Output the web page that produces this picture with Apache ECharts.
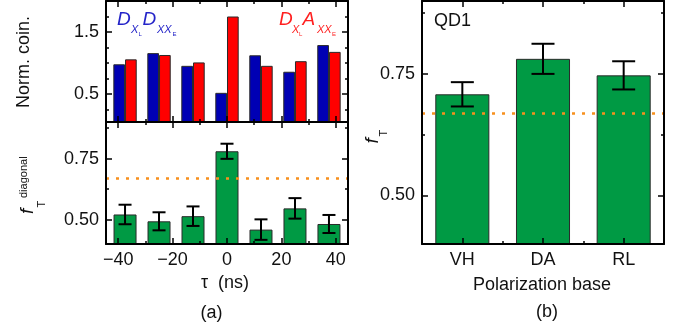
<!DOCTYPE html>
<html><head><meta charset="utf-8">
<script src="https://cdn.jsdelivr.net/npm/echarts@6/dist/echarts.min.js"></script>
<style>html,body{margin:0;padding:0;background:#fff}#c{width:685px;height:332px}</style>
</head><body><div id="c"></div>
<script>
// ---- data ----
const tau = [-37.5, -25, -12.5, 0, 12.5, 25, 37.5];
const coinDD = [0.98, 1.16, 0.955, 0.52, 1.125, 0.86, 1.29];
const coinDA = [1.06, 1.13, 1.01, 1.75, 0.955, 1.03, 1.18];
const fDiag = [0.521, 0.493, 0.514, 0.780, 0.459, 0.546, 0.482];
const fDiagErr = [0.040, 0.037, 0.040, 0.031, 0.042, 0.042, 0.037];
const bases = ['VH', 'DA', 'RL'];
const fBase = [0.708, 0.781, 0.747];
const fBaseErr = [0.025, 0.031, 0.029];
const threshold = 2 / 3;
// ---- tick labels / positions ----
const tauMajor = [-40, -20, 0, 20, 40];
const tauMinor = [-30, -10, 10, 30];
const coinMajor = [0.5, 1.5];
const coinMinor = [0.25, 0.75, 1.0, 1.25, 1.75];
const fMajor = [0.5, 0.75];
const fMinor = [0.625, 0.875];

const FONT = '"Liberation Sans", Arial, sans-serif';
const TXT = '#111';
const GREEN = '#009a44';
const tickStyle = { color: '#000', width: 1.5 };

function valAxis(grid, pos, min, max, ticks, len, opts) {
  opts = opts || {};
  return {
    type: 'value', gridIndex: grid, position: pos, min: min, max: max, z: 10,
    splitLine: { show: false },
    axisLine: { show: !!opts.line, onZero: false, lineStyle: { color: '#000', width: 2 } },
    axisTick: { show: true, inside: true, length: len, customValues: ticks, lineStyle: tickStyle },
    axisLabel: opts.fmt ? { show: true, customValues: ticks, formatter: opts.fmt, fontSize: 18,
      fontFamily: FONT, color: TXT, margin: 7 } : { show: false }
  };
}
function catAxis(grid, pos, len, center, opts) {
  opts = opts || {};
  return {
    type: 'category', gridIndex: grid, position: pos, data: bases, boundaryGap: true, z: 10,
    axisLine: { show: !!opts.line, lineStyle: { color: '#000', width: 2 } },
    axisTick: { show: true, inside: true, length: len, alignWithLabel: center, lineStyle: tickStyle },
    axisLabel: opts.label ? { show: true, fontSize: 18, fontFamily: FONT, color: TXT, margin: 7 } : { show: false }
  };
}
const minus = v => String(v).replace('-', '\u2212');

const xAxes = [
  valAxis(0, 'bottom', -44.5, 44.5, tauMajor, 6, { line: true }),
  valAxis(0, 'bottom', -44.5, 44.5, tauMinor, 3),
  valAxis(0, 'top', -44.5, 44.5, tauMajor, 6, { line: true }),
  valAxis(0, 'top', -44.5, 44.5, tauMinor, 3),
  valAxis(1, 'bottom', -44.5, 44.5, tauMajor, 6, { line: true, fmt: minus }),
  valAxis(1, 'bottom', -44.5, 44.5, tauMinor, 3),
  valAxis(1, 'top', -44.5, 44.5, tauMajor, 6, { line: true }),
  valAxis(1, 'top', -44.5, 44.5, tauMinor, 3),
  catAxis(2, 'bottom', 6, true, { line: true, label: true }),
  catAxis(2, 'bottom', 3, false),
  catAxis(2, 'top', 6, true, { line: true }),
  catAxis(2, 'top', 3, false)
];
const yAxes = [
  valAxis(0, 'left', 0.05, 2.0, coinMajor, 6, { line: true, fmt: v => v.toFixed(1) }),
  valAxis(0, 'left', 0.05, 2.0, coinMinor, 3),
  valAxis(0, 'right', 0.05, 2.0, coinMajor, 6, { line: true }),
  valAxis(0, 'right', 0.05, 2.0, coinMinor, 3),
  valAxis(1, 'left', 0.4, 0.9, fMajor, 6, { line: true, fmt: v => v.toFixed(2) }),
  valAxis(1, 'left', 0.4, 0.9, fMinor, 3),
  valAxis(1, 'right', 0.4, 0.9, fMajor, 6, { line: true }),
  valAxis(1, 'right', 0.4, 0.9, fMinor, 3),
  valAxis(2, 'left', 0.4, 0.9, fMajor, 6, { line: true, fmt: v => v.toFixed(2) }),
  valAxis(2, 'left', 0.4, 0.9, fMinor, 3),
  valAxis(2, 'right', 0.4, 0.9, fMajor, 6, { line: true }),
  valAxis(2, 'right', 0.4, 0.9, fMinor, 3)
];

function errRender(hw) {
  return function (params, api) {
    const x = api.value(0), y = api.value(1), e = api.value(2);
    const top = api.coord([x, y + e]), bot = api.coord([x, y - e]);
    const st = { stroke: '#000', lineWidth: 2, fill: null };
    return { type: 'group', children: [
      { type: 'line', shape: { x1: top[0], y1: top[1], x2: bot[0], y2: bot[1] }, style: st },
      { type: 'line', shape: { x1: top[0] - hw, y1: top[1], x2: top[0] + hw, y2: top[1] }, style: st },
      { type: 'line', shape: { x1: bot[0] - hw, y1: bot[1], x2: bot[0] + hw, y2: bot[1] }, style: st }
    ] };
  };
}
const thrLine = {
  silent: true, symbol: ['none', 'none'], label: { show: false },
  lineStyle: { color: '#f7901e', width: 2.5, type: [3, 7] },
  data: [{ yAxis: threshold }]
};
const barBorder = { borderColor: '#2a2a2a', borderWidth: 1 };

function t(x, y, text, size, o) {
  o = o || {};
  return {
    type: 'text', x: x, y: y, rotation: o.rot || 0, z: 50,
    style: { text: text, fontSize: size, fontFamily: FONT, fontStyle: o.italic ? 'italic' : 'normal',
      fill: o.fill || TXT, align: o.align || 'center', verticalAlign: 'middle' }
  };
}
const R = Math.PI / 2;
const BLUE_T = '#2424c8', RED_T = '#ff1f1f';

const option = {
  animation: false,
  backgroundColor: '#fff',
  grid: [
    { left: 106, top: 1, width: 242, height: 121 },
    { left: 106, top: 122, width: 242, height: 122 },
    { left: 422, top: 1, width: 242, height: 243 }
  ],
  xAxis: xAxes,
  yAxis: yAxes,
  series: [
    { type: 'bar', xAxisIndex: 0, yAxisIndex: 0, barWidth: 11.7, barGap: '0%',
      itemStyle: Object.assign({ color: '#0000b4' }, barBorder),
      data: tau.map((x, i) => [x, coinDD[i]]) },
    { type: 'bar', xAxisIndex: 0, yAxisIndex: 0, barWidth: 11.7, barGap: '0%',
      itemStyle: Object.assign({ color: '#ff0000' }, barBorder),
      data: tau.map((x, i) => [x, coinDA[i]]) },
    { type: 'bar', xAxisIndex: 4, yAxisIndex: 4, barWidth: 23,
      itemStyle: Object.assign({ color: GREEN }, barBorder),
      data: tau.map((x, i) => [x, fDiag[i]]), markLine: thrLine },
    { type: 'custom', xAxisIndex: 4, yAxisIndex: 4, z: 5, renderItem: errRender(6.5),
      encode: { x: 0, y: 1 }, data: tau.map((x, i) => [x, fDiag[i], fDiagErr[i]]) },
    { type: 'bar', xAxisIndex: 8, yAxisIndex: 8, barWidth: '67%',
      itemStyle: Object.assign({ color: GREEN }, barBorder),
      data: fBase, markLine: thrLine },
    { type: 'custom', xAxisIndex: 8, yAxisIndex: 8, z: 5, renderItem: errRender(11.5),
      encode: { x: 0, y: 1 }, data: bases.map((b, i) => [b, fBase[i], fBaseErr[i]]) }
  ],
  graphic: [
    t(117, 20, 'D', 19, { italic: true, align: 'left', fill: BLUE_T }),
    t(131, 30, 'X', 11, { italic: true, align: 'left', fill: BLUE_T }),
    t(138.5, 34, 'L', 6, { align: 'left', fill: BLUE_T }),
    t(142.5, 20, 'D', 19, { italic: true, align: 'left', fill: BLUE_T }),
    t(157, 30, 'XX', 11, { italic: true, align: 'left', fill: BLUE_T }),
    t(172.5, 34, 'E', 6, { align: 'left', fill: BLUE_T }),
    t(279, 20, 'D', 19, { italic: true, align: 'left', fill: RED_T }),
    t(292, 30, 'X', 11, { italic: true, align: 'left', fill: RED_T }),
    t(299, 34, 'L', 6, { align: 'left', fill: RED_T }),
    t(302.5, 20, 'A', 19, { italic: true, align: 'left', fill: RED_T }),
    t(317, 30, 'XX', 11, { italic: true, align: 'left', fill: RED_T }),
    t(332, 34, 'E', 6, { align: 'left', fill: RED_T }),
    t(24, 62, 'Norm. coin.', 18, { rot: R }),
    t(28, 214, 'f', 19, { italic: true, rot: R, align: 'left' }),
    t(42, 207.5, 'T', 11, { rot: R, align: 'left' }),
    t(24, 198, 'diagonal', 11, { rot: R, align: 'left' }),
    t(373, 143.5, 'f', 19, { italic: true, rot: R, align: 'left' }),
    t(384, 136.5, 'T', 11, { rot: R, align: 'left' }),
    t(225, 283, '\u03c4  (ns)', 18),
    t(211.5, 313, '(a)', 18),
    t(542, 285, 'Polarization base', 18),
    t(547, 312, '(b)', 18),
    t(434, 21, 'QD1', 18, { align: 'left' })
  ]
};
echarts.init(document.getElementById('c'), null, { renderer: 'canvas' }).setOption(option);
</script></body></html>
